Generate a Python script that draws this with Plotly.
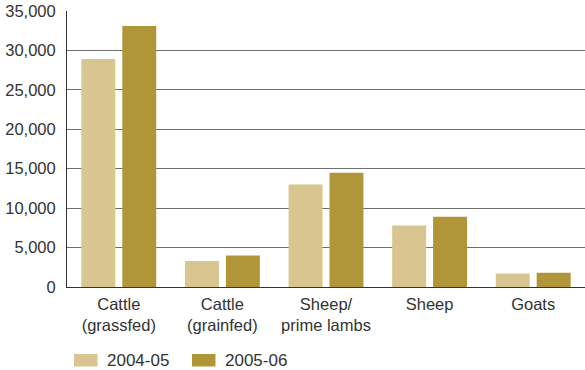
import plotly.graph_objects as go

# Livestock categories and values for two seasons
categories = ["Cattle<br>(grassfed)", "Cattle<br>(grainfed)", "Sheep/<br>prime lambs", "Sheep", "Goats"]
series_names = ["2004-05", "2005-06"]
values_2004_05 = [28900, 3300, 13000, 7800, 1700]
values_2005_06 = [33100, 4000, 14500, 8900, 1800]
y_ticks = [0, 5000, 10000, 15000, 20000, 25000, 30000, 35000]
y_tick_labels = ["0", "5,000", "10,000", "15,000", "20,000", "25,000", "30,000", "35,000"]

colors = ["#D9C58F", "#B09639"]
font_family = "Liberation Sans, Arial, Helvetica, sans-serif"

fig = go.Figure()
for name, vals, col in zip(series_names, [values_2004_05, values_2005_06], colors):
    fig.add_trace(go.Bar(x=categories, y=vals, name=name, marker=dict(color=col, line=dict(width=0))))

fig.update_layout(
    width=585, height=370,
    margin=dict(l=67, r=0, t=11, b=83),
    paper_bgcolor="white", plot_bgcolor="white",
    barmode="group", bargap=0.21, bargroupgap=0.17,
    showlegend=False,
    font=dict(family=font_family, size=16.5, color="#333333"),
)
fig.update_yaxes(
    range=[0, 35000], tickvals=y_ticks, ticktext=y_tick_labels,
    showgrid=True, gridcolor="#6f6f6f", gridwidth=1,
    showline=True, linecolor="#333333", linewidth=1,
    zeroline=False, ticks="", ticklabelstandoff=7,
)
fig.update_xaxes(
    showline=True, linecolor="#333333", linewidth=1,
    ticks="", showgrid=False, ticklabelstandoff=2,
)

# Legend drawn as swatches with labels beneath the plot
legend_x = [74, 192]
for i, (name, col) in enumerate(zip(series_names, colors)):
    x0 = legend_x[i]
    fig.add_shape(type="rect", xref="paper", yref="paper",
                  x0=(x0 - 67) / 518, x1=(x0 + 23.5 - 67) / 518,
                  y0=(287 - 366.5) / 276, y1=(287 - 354) / 276,
                  fillcolor=col, line=dict(width=0))
    fig.add_annotation(xref="paper", yref="paper",
                       x=(x0 + 31 - 67) / 518, y=(287 - 360) / 276,
                       text=name, showarrow=False, xanchor="left", yanchor="middle",
                       font=dict(size=17, color="#333333"))

fig.write_html("out.html")
